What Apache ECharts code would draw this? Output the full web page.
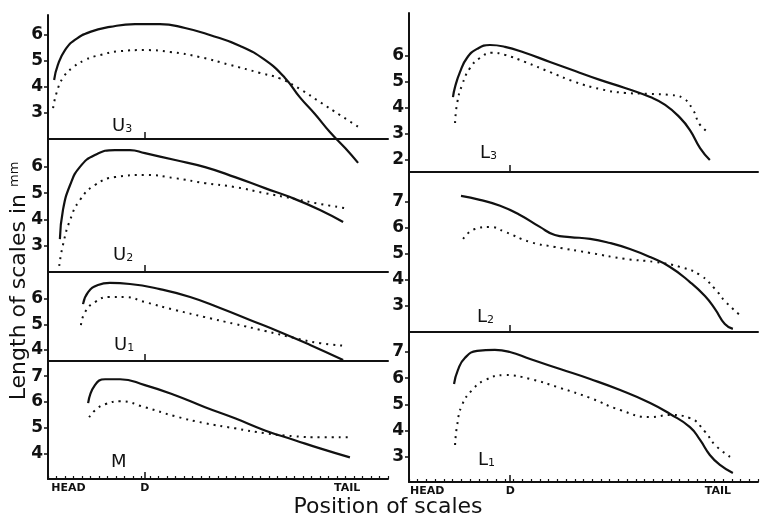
<!DOCTYPE html>
<html>
<head>
<meta charset="utf-8">
<script src="https://cdn.jsdelivr.net/npm/echarts@6/dist/echarts.min.js"></script>
<style>
  html, body { margin: 0; padding: 0; background: #fff; }
  #root { width: 760px; height: 520px; }
</style>
</head>
<body>
<div id="root"></div>
<script>
// position along the fish body: 0 = start of axis, 100 = right end of axis
// (left column, right column)
const headPos = [6, 5.2]
const dorsalPos = [28.5, 29]
const tailPos = [88, 88.5]
const posLabels = ['HEAD', 'D', 'TAIL']

const panelNames = ['U3', 'U2', 'U1', 'M', 'L3', 'L2', 'L1']
const panelTicks = [[3, 4, 5, 6], [3, 4, 5, 6], [4, 5, 6], [4, 5, 6, 7], [2, 3, 4, 5, 6], [3, 4, 5, 6, 7], [3, 4, 5, 6, 7]]

// length of scales in mm, [position, length]; solid and dotted curves
const u3Solid = [[1.8, 4.27], [2.9, 4.85], [5, 5.42], [7.9, 5.81], [12.4, 6.12], [18.2, 6.31], [25.6, 6.42], [32.9, 6.42], [40.3, 6.27], [47.6, 6.0], [56.5, 5.58], [63.8, 5.04], [69.7, 4.35], [74.1, 3.6], [78.5, 2.96], [82.9, 2.27], [87.4, 1.65], [91.2, 1.08]]
const u3Dot = [[1.5, 3.19], [2.6, 3.81], [4.4, 4.35], [7.1, 4.73], [10.9, 5.04], [15.3, 5.23], [21.2, 5.38], [28.5, 5.42], [35.9, 5.35], [44.7, 5.15], [53.5, 4.85], [62.4, 4.54], [68.2, 4.33], [74.1, 3.92], [80, 3.42], [85.9, 2.92], [91.8, 2.42]]
const u2Solid = [[3.5, 3.25], [4.4, 4.36], [6.5, 5.31], [9.4, 6.0], [13.8, 6.45], [19.7, 6.64], [24.1, 6.64], [28.5, 6.52], [37.4, 6.26], [46.2, 5.99], [55, 5.61], [63.8, 5.19], [71.2, 4.85], [80, 4.36], [86.8, 3.9]]
const u2Dot = [[3.3, 2.23], [4.4, 3.03], [6.5, 3.98], [9.4, 4.74], [13.8, 5.31], [19.7, 5.61], [28.5, 5.69], [37.4, 5.57], [46.2, 5.38], [55, 5.23], [63.8, 5.0], [72.6, 4.78], [80, 4.59], [87.4, 4.43]]
const u1Solid = [[10.3, 5.8], [11.8, 6.27], [14.7, 6.55], [18.2, 6.63], [24.1, 6.59], [32.9, 6.39], [41.8, 6.08], [50.6, 5.65], [59.4, 5.18], [68.2, 4.71], [77.1, 4.2], [86.8, 3.61]]
const u1Dot = [[9.7, 4.98], [10.9, 5.49], [13.8, 5.88], [18.2, 6.08], [22.6, 6.08], [28.5, 5.88], [37.4, 5.57], [46.2, 5.29], [55, 5.02], [63.8, 4.75], [72.6, 4.47], [80, 4.27], [87.9, 4.16]]
const mSolid = [[11.8, 5.95], [13.8, 6.65], [16.8, 6.88], [21.2, 6.88], [28.5, 6.65], [37.4, 6.26], [46.2, 5.79], [55, 5.36], [63.8, 4.89], [72.6, 4.51], [80, 4.19], [88.8, 3.84]]
const mDot = [[12.1, 5.4], [13.8, 5.67], [16.8, 5.91], [21.2, 6.02], [28.5, 5.79], [37.4, 5.44], [46.2, 5.17], [55, 4.97], [63.8, 4.78], [72.6, 4.66], [80, 4.62], [88.8, 4.62]]
const l3Solid = [[12.6, 4.42], [13.2, 4.81], [14.6, 5.38], [16.6, 5.92], [19.5, 6.27], [23.2, 6.42], [27.5, 6.35], [33.2, 6.12], [40.4, 5.77], [47.6, 5.42], [54.7, 5.08], [61.9, 4.77], [69.1, 4.42], [73.4, 4.12], [77.7, 3.62], [80.5, 3.15], [83.4, 2.46], [86.2, 2.0]]
const l3Dot = [[13.2, 3.42], [13.8, 4.19], [15.2, 4.88], [17.5, 5.54], [20.3, 5.92], [23.8, 6.12], [27.5, 6.04], [33.2, 5.77], [40.4, 5.38], [47.6, 5.0], [54.7, 4.73], [61.9, 4.58], [69.1, 4.54], [74.8, 4.5], [78.5, 4.38], [81.4, 3.92], [83.4, 3.35], [86.2, 3.04]]
const l2Solid = [[14.9, 7.23], [20.3, 7.08], [26.1, 6.85], [31.8, 6.5], [37.5, 6.04], [41.8, 5.73], [46.1, 5.65], [51.9, 5.58], [57.6, 5.42], [63.3, 5.19], [69.1, 4.88], [74.8, 4.5], [80.5, 3.92], [84.8, 3.38], [87.7, 2.88], [90.5, 2.31], [92.8, 2.12]]
const l2Dot = [[15.5, 5.58], [18.9, 5.96], [23.2, 6.04], [27.5, 5.85], [34.7, 5.46], [41.8, 5.27], [51.9, 5.04], [61.9, 4.81], [70.5, 4.69], [77.7, 4.5], [83.4, 4.19], [87.7, 3.65], [90.5, 3.19], [95.4, 2.58]]
const l1Solid = [[12.9, 5.78], [14.0, 6.31], [16.0, 6.77], [19.5, 7.04], [24.6, 7.08], [28.9, 7.0], [34.7, 6.73], [43.3, 6.35], [51.9, 5.97], [60.5, 5.55], [69.1, 5.06], [74.8, 4.64], [80.5, 4.14], [83.4, 3.65], [86.2, 3.08], [89.1, 2.7], [92.8, 2.39]]
const l1Dot = [[13.2, 3.46], [13.8, 4.22], [15.2, 4.98], [18.1, 5.55], [21.8, 5.93], [27.5, 6.12], [34.7, 5.97], [43.3, 5.63], [51.9, 5.25], [60.5, 4.79], [69.1, 4.52], [74.8, 4.6], [80.5, 4.48], [84.8, 3.97], [87.7, 3.46], [92.5, 2.96]]

const solidCurves = [u3Solid, u2Solid, u1Solid, mSolid, l3Solid, l2Solid, l1Solid]
const dottedCurves = [u3Dot, u2Dot, u1Dot, mDot, l3Dot, l2Dot, l1Dot]

// layout of the seven stacked panels
const cols = [{ left: 48, width: 340 }, { left: 409, width: 349 }]
const layout = [
  { col: 0, top: 15, height: 124, min: 2, max: 6.77, lx: 112, ly: 117, bottom: false },
  { col: 0, top: 139, height: 133, min: 2, max: 7.06, lx: 113, ly: 246, bottom: false },
  { col: 0, top: 272, height: 89, min: 3.57, max: 7.06, lx: 114, ly: 336, bottom: false },
  { col: 0, top: 361, height: 118, min: 3.0, max: 7.59, lx: 111, ly: 453, bottom: true },
  { col: 1, top: 13, height: 159, min: 1.54, max: 7.65, lx: 480, ly: 144, bottom: false },
  { col: 1, top: 172, height: 160, min: 2.0, max: 8.15, lx: 477, ly: 308, bottom: false },
  { col: 1, top: 332, height: 150, min: 2.05, max: 7.76, lx: 478, ly: 451, bottom: true }
]

const ink = '#111'
const grid = [], xAxis = [], yAxis = [], series = [], graphic = []

layout.forEach((p, i) => {
  const c = cols[p.col]
  grid.push({ left: c.left, width: c.width, top: p.top, height: p.height })

  const labelVals = [headPos[p.col], dorsalPos[p.col], tailPos[p.col]]
  xAxis.push({
    type: 'value', gridIndex: i, min: 0, max: 100, position: 'bottom',
    axisLine: { show: true, onZero: false, lineStyle: { color: ink, width: 2 } },
    axisTick: { show: true, inside: true, length: 7, customValues: [dorsalPos[p.col]], lineStyle: { color: ink, width: 1.5 } },
    axisLabel: {
      show: p.bottom, customValues: labelVals, margin: 4,
      formatter: v => posLabels[labelVals.indexOf(v)] || '',
      color: ink, fontFamily: 'DejaVu Sans', fontWeight: 'bold', fontSize: 11
    },
    splitLine: { show: false }
  })

  yAxis.push({
    type: 'value', gridIndex: i, min: p.min, max: p.max,
    axisLine: { show: true, lineStyle: { color: ink, width: 2 } },
    axisTick: { show: true, length: 4, customValues: panelTicks[i], lineStyle: { color: ink, width: 1.5 } },
    axisLabel: {
      customValues: panelTicks[i], margin: 5,
      color: ink, fontFamily: 'DejaVu Sans', fontWeight: 'bold', fontSize: 17
    },
    splitLine: { show: false }
  })

  series.push({
    type: 'line', name: panelNames[i] + ' solid', data: solidCurves[i],
    xAxisIndex: i, yAxisIndex: i, smooth: 0.5, symbol: 'none',
    clip: i !== 0,
    lineStyle: { color: ink, width: 2.2 }
  })
  series.push({
    type: 'line', name: panelNames[i] + ' dotted', data: dottedCurves[i],
    xAxisIndex: i, yAxisIndex: i, smooth: 0.5, symbol: 'none',
    lineStyle: { color: ink, width: 2, type: [2, 5] }
  })

  graphic.push({
    type: 'text', left: p.lx, top: p.ly, silent: true,
    style: {
      text: panelNames[i][0] + '{s|' + panelNames[i].slice(1) + '}',
      fill: ink, font: '18px "DejaVu Sans"',
      rich: { s: { fontSize: 11, fill: ink, fontFamily: 'DejaVu Sans', verticalAlign: 'bottom' } }
    }
  })
})

// fine tick marks along the bottom axis of each column
layout.forEach((p, i) => {
  if (!p.bottom) return
  xAxis.push({
    type: 'value', gridIndex: i, min: 0, max: 100, interval: 2.5, position: 'bottom',
    axisLine: { show: false, onZero: false },
    axisTick: { show: true, inside: true, length: 3, lineStyle: { color: ink, width: 1.2 } },
    axisLabel: { show: false },
    splitLine: { show: false }
  })
})

graphic.push({
  type: 'text', x: 19, y: 281, rotation: Math.PI / 2, silent: true,
  style: {
    text: 'Length of scales in {s|mm}',
    fill: ink, font: '22px "DejaVu Sans"', align: 'center', verticalAlign: 'middle',
    rich: { s: { fontSize: 13, fill: ink, fontFamily: 'DejaVu Sans', padding: [0, 0, 9, 0] } }
  }
})
graphic.push({
  type: 'text', x: 388, y: 507, silent: true,
  style: {
    text: 'Position of scales',
    fill: ink, font: '22px "DejaVu Sans"', align: 'center', verticalAlign: 'middle'
  }
})

const chart = echarts.init(document.getElementById('root'), null, { renderer: 'canvas' })
chart.setOption({
  backgroundColor: '#fff',
  animation: false,
  grid, xAxis, yAxis, series, graphic
})
</script>
</body>
</html>
